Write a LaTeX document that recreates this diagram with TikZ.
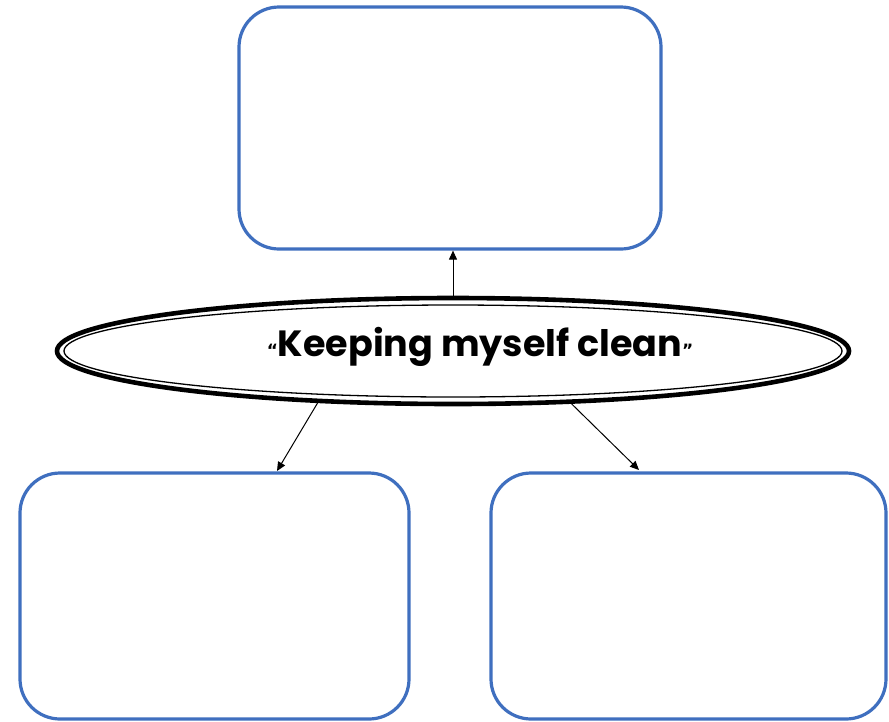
\documentclass[tikz,border=0pt]{standalone}
\usepackage{fontspec}
\usepackage{graphicx}
\newfontfamily\pop{Poppins}
\newfontfamily\qfont{DejaVu Sans}
\usetikzlibrary{shapes.geometric,arrows.meta}
\definecolor{boxblue}{HTML}{3F6FBF}
\begin{document}
\begin{tikzpicture}[x=1pt,y=-1pt,
  box/.style={draw=boxblue,line width=3.2pt,rounded corners=40pt,rectangle,inner sep=0pt},
  oval/.style={draw=black,line width=4.6pt,ellipse,inner sep=0pt,minimum width=792pt,minimum height=106pt},
  arr/.style={draw=black,line width=1pt,-{Triangle[length=9pt,width=8pt]}},
  title/.style={anchor=base,inner sep=0pt,text=black,font=\pop\bfseries}]
\useasboundingbox (0,0) rectangle (889,721);
\node[box,minimum width=422pt,minimum height=242pt] (top) at (450,128) {};
\node[box,minimum width=389pt,minimum height=246pt] (bl) at (214.5,596) {};
\node[box,minimum width=395pt,minimum height=246pt] (br) at (688.5,596) {};
\node[oval] (ell) at (453,351) {};
\draw[line width=1.3pt] (ell.center) ellipse [x radius=389pt, y radius=46pt];
\node[title] (lbl) at (480,356) {{\qfont\bfseries\fontsize{17}{17}\selectfont “}\resizebox{404pt}{!}{Keeping myself clean}{\qfont\bfseries\fontsize{17}{17}\selectfont ”}};
\coordinate (lt) at (277,471);
\coordinate (rt) at (639,470);
\draw[arr] (ell.north) -- (ell.north |- top.south);
\draw[arr] (ell.201.5) -- (lt);
\draw[arr] (ell.336.2) -- (rt);
\end{tikzpicture}
\end{document}
